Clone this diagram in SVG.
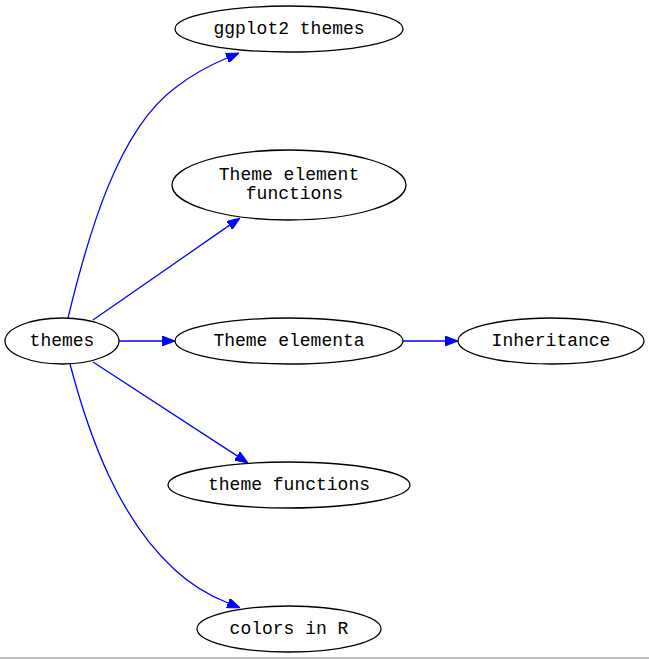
<svg xmlns="http://www.w3.org/2000/svg" width="649" height="659" viewBox="0 0 649 659">
<style>
.node ellipse{fill:none;stroke:#000;stroke-width:1.3}
.node text{font-family:"Liberation Mono","Courier New",monospace;font-size:18px;fill:#000;text-anchor:middle}
.edge{fill:none;stroke:#0000ff;stroke-width:1.3}
</style>
<defs>
<marker id="arr" viewBox="0 0 13 10" refX="0" refY="5" markerWidth="13" markerHeight="10" markerUnits="userSpaceOnUse" orient="auto">
<path d="M0,0 L13,5 L0,10 z" fill="#0000ff" stroke="#0000ff" stroke-width="1"/>
</marker>
</defs>
<rect width="649" height="659" fill="#fff"/>
<g id="connectors">
<path class="edge" marker-end="url(#arr)" d="M68,318 C88,235 118,130 175,88 C190,76 208,66 227,58"/>
<path class="edge" marker-end="url(#arr)" d="M93,320 L229.3,225.4"/>
<path class="edge" marker-end="url(#arr)" d="M119,341 L162,341"/>
<path class="edge" marker-end="url(#arr)" d="M403,341 L445,341"/>
<path class="edge" marker-end="url(#arr)" d="M93,362 L237.1,455.9"/>
<path class="edge" marker-end="url(#arr)" d="M70,364 C90,440 120,520 175,570 C190,584 208,595 228,603"/>
</g>
<g id="themes" class="node"><ellipse cx="62" cy="341" rx="57" ry="23"/><text x="62" y="346">themes</text></g>
<g id="ggplot2_themes" class="node"><ellipse cx="289" cy="29" rx="114" ry="23"/><text x="289" y="34">ggplot2 themes</text></g>
<g id="theme_element_functions" class="node"><ellipse cx="289" cy="185" rx="117" ry="35"/><text x="289" y="180">Theme element</text><text x="289" y="199" xml:space="preserve"> functions</text></g>
<g id="theme_elementa" class="node"><ellipse cx="289" cy="341" rx="114" ry="23"/><text x="289" y="346">Theme elementa</text></g>
<g id="inheritance" class="node"><ellipse cx="551" cy="341" rx="93" ry="23"/><text x="551" y="346">Inheritance</text></g>
<g id="theme_functions" class="node"><ellipse cx="289" cy="485" rx="121" ry="23"/><text x="289" y="490">theme functions</text></g>
<g id="colors_in_r" class="node"><ellipse cx="289" cy="629" rx="92" ry="23"/><text x="289" y="634">colors in R</text></g>
<line x1="0" y1="658" x2="649" y2="658" stroke="#808080" stroke-width="1"/>
</svg>
